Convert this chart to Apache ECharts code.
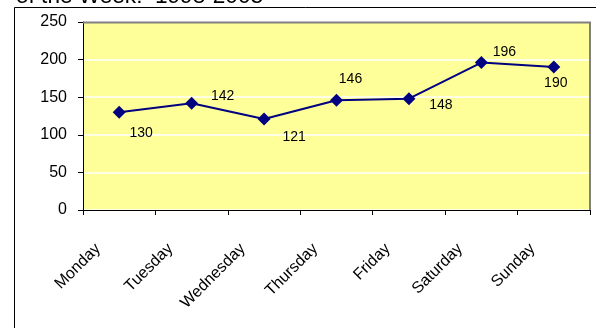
<!DOCTYPE html>
<html>
<head>
<meta charset="utf-8">
<script src="https://cdn.jsdelivr.net/npm/echarts@6/dist/echarts.min.js"></script>
<style>
  html, body { margin: 0; padding: 0; background: #ffffff; }
  #chart { width: 596px; height: 328px; }
</style>
</head>
<body>
<div id="chart"></div>
<script>
// Days of the week and the average count for each
var days = ['Monday', 'Tuesday', 'Wednesday', 'Thursday', 'Friday', 'Saturday', 'Sunday'];
var counts = [130, 142, 121, 146, 148, 196, 190];
var yTicks = [0, 50, 100, 150, 200, 250];
var titleText = 'of the Week:  1998-2003';

// Where each value label sits relative to its point
var labelOffsets = [[22, 21], [31, -7], [30, 18], [14, -21], [32, 6], [23, -10], [2, 16]];

var FONT = 'Arial, "Liberation Sans", sans-serif';

var chart = echarts.init(document.getElementById('chart'), null, { renderer: 'canvas' });

var points = counts.map(function (v, i) {
  return {
    value: v,
    label: {
      show: true,
      position: 'inside',
      offset: labelOffsets[i],
      formatter: String(v),
      color: '#000000',
      fontSize: 14,
      fontFamily: FONT
    }
  };
});

chart.setOption({
  animation: false,
  backgroundColor: '#ffffff',
  graphic: [
    {
      type: 'text',
      x: 16,
      y: 8,
      z: 10,
      style: { text: titleText, font: '22.6px ' + FONT, fill: '#000000', verticalAlign: 'bottom', align: 'left' }
    },
    {
      type: 'rect',
      shape: { x: 14.5, y: 7.5, width: 700, height: 400 },
      style: { fill: null, stroke: '#000000', lineWidth: 1 },
      z: -1
    },
    {
      type: 'polyline',
      shape: { points: [[83, 22.5], [590, 22.5], [590, 210]] },
      style: { stroke: '#808080', lineWidth: 2, fill: null },
      z: 5
    }
  ],
  grid: {
    left: 83, top: 22, right: 6, bottom: 118,
    show: true, backgroundColor: '#FFFF99', borderWidth: 0
  },
  xAxis: {
    type: 'category',
    data: days,
    boundaryGap: true,
    axisLine: { lineStyle: { color: '#000000', width: 1 } },
    axisTick: { show: true, alignWithLabel: false, length: 5, lineStyle: { color: '#000000' } },
    axisLabel: {
      rotate: 45, margin: 15, padding: [0, 30, 0, 0],
      color: '#000000', fontSize: 16, fontFamily: FONT, interval: 0
    },
    splitLine: { show: false }
  },
  yAxis: {
    type: 'value',
    min: yTicks[0],
    max: yTicks[yTicks.length - 1],
    interval: yTicks[1] - yTicks[0],
    axisLine: { show: true, lineStyle: { color: '#000000', width: 1 } },
    axisTick: { show: true, length: 5, lineStyle: { color: '#000000' } },
    axisLabel: { margin: 16, color: '#000000', fontSize: 16, fontFamily: FONT },
    splitLine: { show: true, lineStyle: { color: '#ffffff', width: 1.6, type: 'solid' } }
  },
  series: [{
    type: 'line',
    data: points,
    symbol: 'diamond',
    symbolSize: 13,
    itemStyle: { color: '#000080' },
    lineStyle: { color: '#000080', width: 2 },
    z: 3
  }]
});
</script>
</body>
</html>
